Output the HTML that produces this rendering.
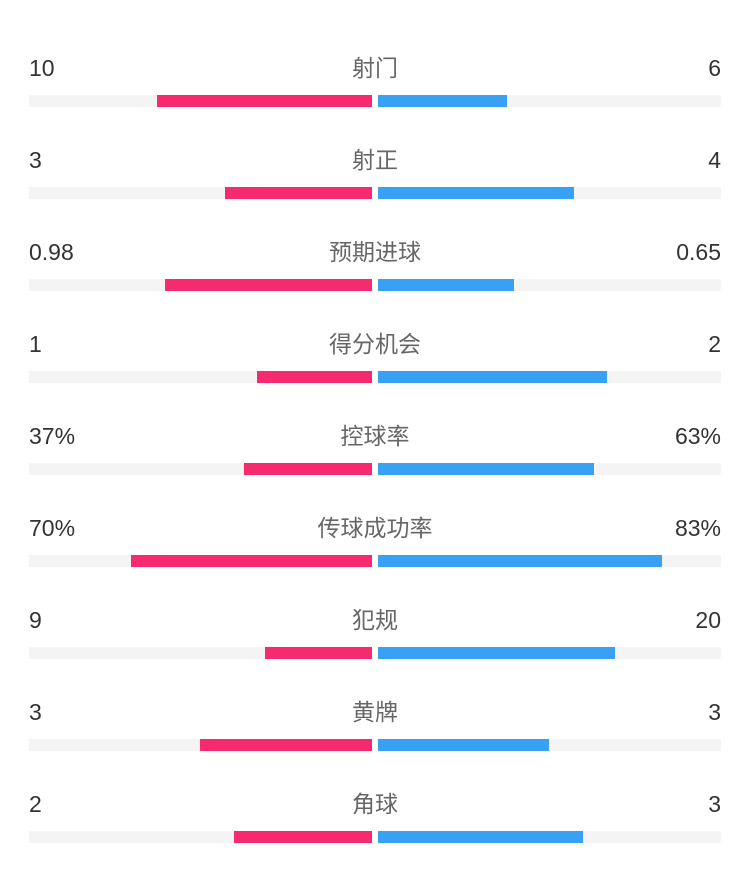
<!DOCTYPE html><html><head><style>
body{margin:0;width:750px;height:880px;background:#fff;font-family:"Liberation Sans","Noto Sans CJK SC",sans-serif;position:relative;overflow:hidden}
.r{position:absolute;left:0;width:750px;height:92px}
.l,.rt,.c{position:absolute;top:14px;font-size:23px;line-height:28px}
.l{left:29px;color:#333}.rt{right:29px;color:#333}.c{left:0;width:750px;text-align:center;color:#666}
.t{position:absolute;top:55px;height:12px;background:#f4f4f4}
.p{position:absolute;top:55px;height:12px;background:#f7296f}
.b{position:absolute;top:55px;height:12px;background:#3aa0f5}
</style></head><body>
<div class="r" style="top:40px"><span class="l">10</span><span class="c">射门</span><span class="rt">6</span><div class="t" style="left:29px;width:343px"></div><div class="t" style="left:378px;width:343px"></div><div class="p" style="left:157px;width:215px"></div><div class="b" style="left:378px;width:129px"></div></div>
<div class="r" style="top:132px"><span class="l">3</span><span class="c">射正</span><span class="rt">4</span><div class="t" style="left:29px;width:343px"></div><div class="t" style="left:378px;width:343px"></div><div class="p" style="left:225px;width:147px"></div><div class="b" style="left:378px;width:196px"></div></div>
<div class="r" style="top:224px"><span class="l">0.98</span><span class="c">预期进球</span><span class="rt">0.65</span><div class="t" style="left:29px;width:343px"></div><div class="t" style="left:378px;width:343px"></div><div class="p" style="left:165px;width:207px"></div><div class="b" style="left:378px;width:136px"></div></div>
<div class="r" style="top:316px"><span class="l">1</span><span class="c">得分机会</span><span class="rt">2</span><div class="t" style="left:29px;width:343px"></div><div class="t" style="left:378px;width:343px"></div><div class="p" style="left:257px;width:115px"></div><div class="b" style="left:378px;width:229px"></div></div>
<div class="r" style="top:408px"><span class="l">37%</span><span class="c">控球率</span><span class="rt">63%</span><div class="t" style="left:29px;width:343px"></div><div class="t" style="left:378px;width:343px"></div><div class="p" style="left:244px;width:128px"></div><div class="b" style="left:378px;width:216px"></div></div>
<div class="r" style="top:500px"><span class="l">70%</span><span class="c">传球成功率</span><span class="rt">83%</span><div class="t" style="left:29px;width:343px"></div><div class="t" style="left:378px;width:343px"></div><div class="p" style="left:131px;width:241px"></div><div class="b" style="left:378px;width:284px"></div></div>
<div class="r" style="top:592px"><span class="l">9</span><span class="c">犯规</span><span class="rt">20</span><div class="t" style="left:29px;width:343px"></div><div class="t" style="left:378px;width:343px"></div><div class="p" style="left:265px;width:107px"></div><div class="b" style="left:378px;width:237px"></div></div>
<div class="r" style="top:684px"><span class="l">3</span><span class="c">黄牌</span><span class="rt">3</span><div class="t" style="left:29px;width:343px"></div><div class="t" style="left:378px;width:343px"></div><div class="p" style="left:200px;width:172px"></div><div class="b" style="left:378px;width:171px"></div></div>
<div class="r" style="top:776px"><span class="l">2</span><span class="c">角球</span><span class="rt">3</span><div class="t" style="left:29px;width:343px"></div><div class="t" style="left:378px;width:343px"></div><div class="p" style="left:234px;width:138px"></div><div class="b" style="left:378px;width:205px"></div></div>
</body></html>
